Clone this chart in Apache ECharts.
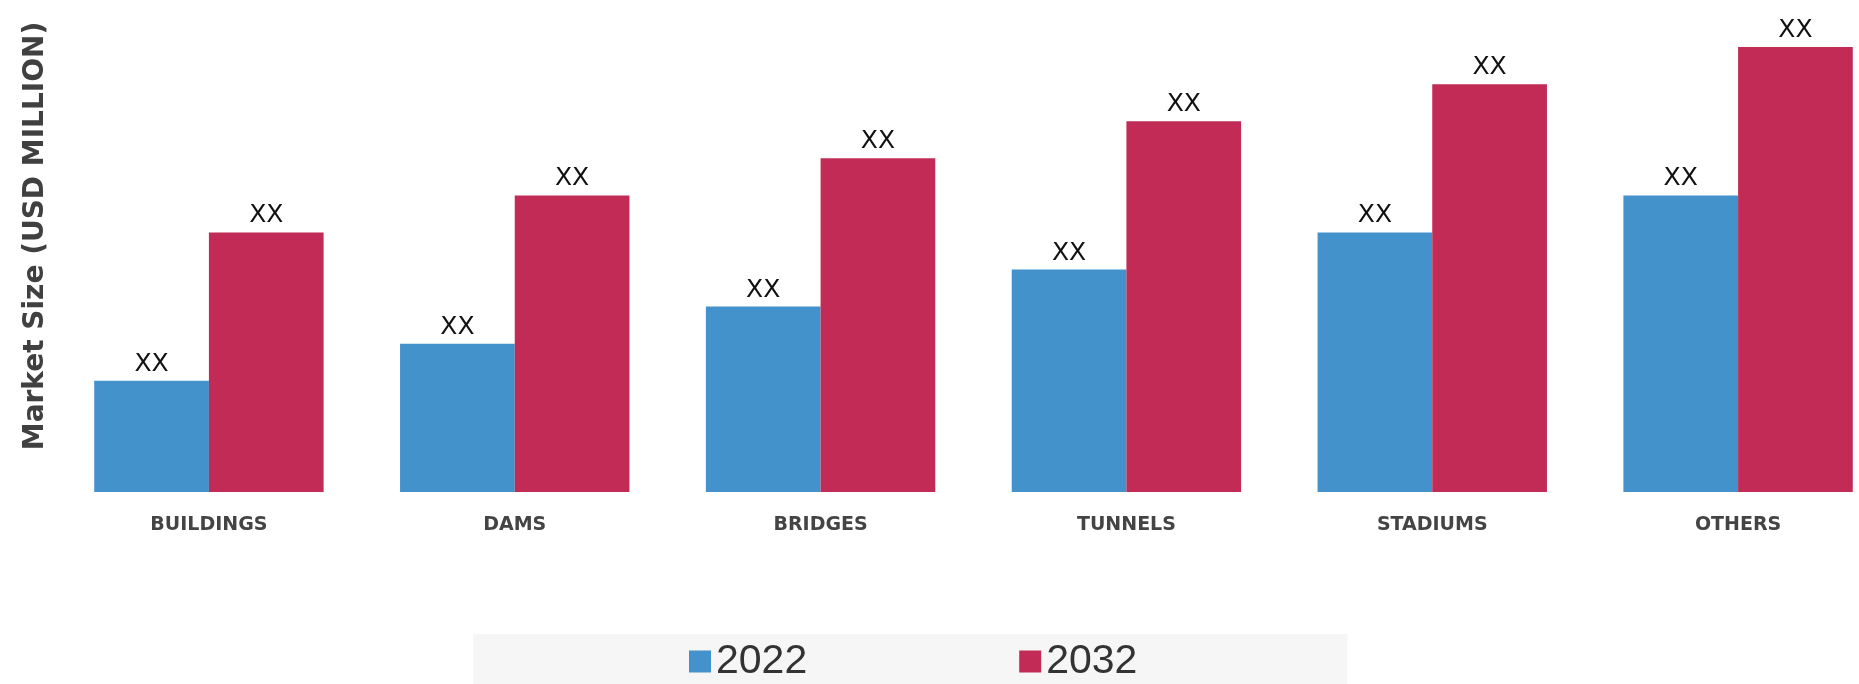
<!DOCTYPE html>
<html>
<head>
<meta charset="utf-8">
<script src="https://cdn.jsdelivr.net/npm/echarts@6/dist/echarts.min.js"></script>
<style>
html,body{margin:0;padding:0;background:#fff;overflow:hidden;width:1859px;height:684px;}
#chart{width:1892px;height:684px;}
</style>
</head>
<body>
<div id="chart"></div>
<script>
const categories = ['BUILDINGS', 'DAMS', 'BRIDGES', 'TUNNELS', 'STADIUMS', 'OTHERS'];
const seriesNames = ['2022', '2032'];
const values2022 = [3, 4, 5, 6, 7, 8];
const values2032 = [7, 8, 9, 10, 11, 12];
const barLabels = ['XX', 'XX', 'XX', 'XX', 'XX', 'XX'];
const yTitle = 'Market Size (USD MILLION)';

const chart = echarts.init(document.getElementById('chart'));
const labelCfg = {
  show: true,
  position: 'top',
  distance: 4,
  formatter: p => barLabels[p.dataIndex],
  fontFamily: 'DejaVu Sans',
  fontSize: 25,
  color: '#111111'
};
chart.setOption({
  animation: false,
  backgroundColor: '#ffffff',
  grid: { left: 56, top: 10, width: 1835, height: 482 },
  legend: {
    data: seriesNames,
    left: 473,
    top: 634,
    padding: [7, 210, 20, 216],
    backgroundColor: '#f6f6f6',
    itemWidth: 22,
    itemHeight: 22,
    itemGap: 212,
    icon: 'rect',
    textStyle: { fontFamily: 'Liberation Sans', fontSize: 41, color: '#333333' }
  },
  xAxis: {
    type: 'category',
    data: categories,
    axisLine: { show: false },
    axisTick: { show: false },
    axisLabel: { margin: 24, fontFamily: 'DejaVu Sans', fontWeight: 'bold', fontSize: 19, color: '#444444' }
  },
  yAxis: {
    type: 'value',
    min: 0,
    max: 13,
    show: false
  },
  graphic: [{
    type: 'text',
    x: 36,
    y: 236,
    rotation: Math.PI / 2,
    style: {
      text: yTitle,
      fontFamily: 'DejaVu Sans',
      fontWeight: 'bold',
      fontSize: 28,
      fill: '#404040',
      textAlign: 'center',
      textVerticalAlign: 'middle'
    }
  }],
  series: [
    { name: seriesNames[0], type: 'bar', data: values2022, barGap: '0%', barCategoryGap: '25%',
      itemStyle: { color: '#4392CC' }, label: labelCfg },
    { name: seriesNames[1], type: 'bar', data: values2032, barGap: '0%', barCategoryGap: '25%',
      itemStyle: { color: '#C12B55' }, label: labelCfg }
  ]
});
</script>
</body>
</html>
